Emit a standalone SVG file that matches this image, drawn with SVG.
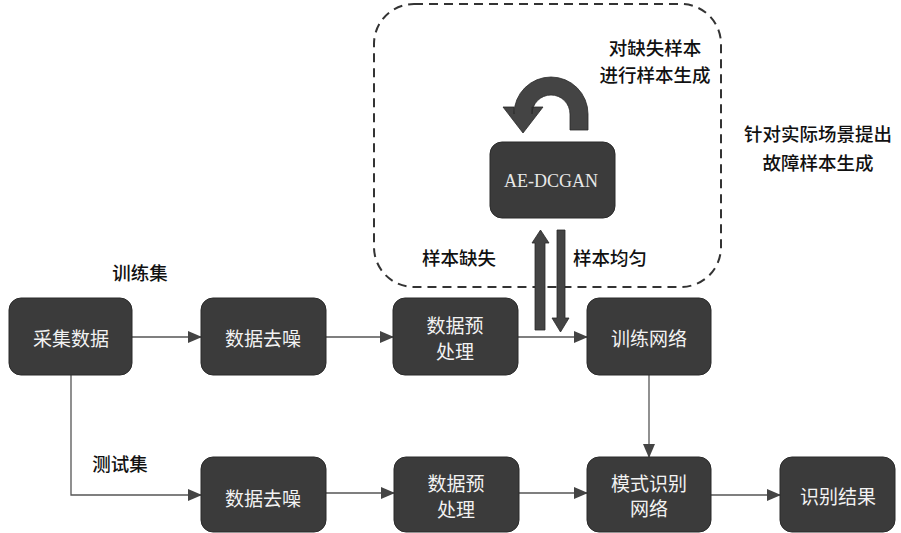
<svg xmlns="http://www.w3.org/2000/svg" width="901" height="533" viewBox="0 0 901 533">
<style>
.node rect{fill:#3b3b3b;stroke:#2a2a2a;stroke-width:1}
.nt{font-family:"Noto Sans CJK SC","Noto Sans",sans-serif;font-size:19px;fill:#f2f2f2;text-anchor:middle;dominant-baseline:central}
.lbl{font-family:"Noto Sans CJK SC","Noto Sans",sans-serif;font-size:18.5px;font-weight:500;fill:#111;text-anchor:middle;dominant-baseline:central}
.ln{fill:none;stroke:#555;stroke-width:1.3}
.thick{fill:#444;stroke:#2a2a2a;stroke-width:0.8}
</style>
<defs>
<marker id="ah" markerWidth="14" markerHeight="12" refX="13" refY="6" orient="auto" markerUnits="userSpaceOnUse">
<path d="M0,0 L14,6 L0,12 Z" fill="#444"/>
</marker>
</defs>
<rect width="901" height="533" fill="#fff"/>

<g id="region">
<rect x="374" y="4" width="347" height="283" rx="40" fill="none" stroke="#333" stroke-width="2" stroke-dasharray="9 6"/>
</g>

<g id="connectors">
<line class="ln" x1="132" y1="337" x2="201" y2="337" marker-end="url(#ah)"/>
<line class="ln" x1="326" y1="337" x2="393" y2="337" marker-end="url(#ah)"/>
<line class="ln" x1="518" y1="337" x2="587" y2="337" marker-end="url(#ah)"/>
<line class="ln" x1="649" y1="375" x2="649" y2="457" marker-end="url(#ah)"/>
<polyline class="ln" points="71,375 71,495 201,495" marker-end="url(#ah)"/>
<line class="ln" x1="326" y1="493" x2="394" y2="493" marker-end="url(#ah)"/>
<line class="ln" x1="519" y1="493" x2="587" y2="493" marker-end="url(#ah)"/>
<line class="ln" x1="711" y1="495" x2="780" y2="495" marker-end="url(#ah)"/>
<path class="thick" d="M535 330 L535 243 L532 243 L540.5 230 L549 243 L545 243 L545 330 Z"/>
<path class="thick" d="M557 230 L565 230 L565 318 L569 318 L560.5 332 L552 318 L557 318 Z"/>
<path class="thick" d="M570 130 L570 114 A19 19 0 0 0 532 114 L532 107 L543 107 L523 133 L503 107 L514 107 L514 114 A37 37 0 0 1 588 114 L588 130 Z"/>
</g>

<g id="n-collect" class="node"><rect x="9" y="298" width="123" height="77" rx="12"/><text class="nt" x="71" y="337">采集数据</text></g>
<g id="n-denoise1" class="node"><rect x="201" y="298" width="125" height="77" rx="12"/><text class="nt" x="263" y="337">数据去噪</text></g>
<g id="n-pre1" class="node"><rect x="393" y="298" width="125" height="77" rx="12"/><text class="nt" x="455" y="324">数据预</text><text class="nt" x="455" y="350">处理</text></g>
<g id="n-train" class="node"><rect x="587" y="298" width="124" height="77" rx="12"/><text class="nt" x="649" y="337">训练网络</text></g>
<g id="n-gan" class="node"><rect x="490" y="142" width="125" height="76" rx="12"/><text x="551" y="181" font-family="Liberation Serif,serif" font-size="18" fill="#e8e8e8" text-anchor="middle" dominant-baseline="central">AE-DCGAN</text></g>
<g id="n-denoise2" class="node"><rect x="201" y="457" width="125" height="75" rx="12"/><text class="nt" x="263" y="497">数据去噪</text></g>
<g id="n-pre2" class="node"><rect x="394" y="457" width="125" height="75" rx="12"/><text class="nt" x="456" y="482">数据预</text><text class="nt" x="456" y="508">处理</text></g>
<g id="n-recog" class="node"><rect x="587" y="457" width="124" height="75" rx="12"/><text class="nt" x="649" y="482">模式识别</text><text class="nt" x="649" y="507">网络</text></g>
<g id="n-result" class="node"><rect x="780" y="457" width="115" height="75" rx="12"/><text class="nt" x="838" y="495">识别结果</text></g>

<g id="labels">
<text class="lbl" x="140" y="272">训练集</text>
<text class="lbl" x="120" y="463">测试集</text>
<text class="lbl" x="655" y="47" font-size="18">对缺失样本</text>
<text class="lbl" x="655" y="74" font-size="18">进行样本生成</text>
<text class="lbl" x="459" y="257">样本缺失</text>
<text class="lbl" x="610" y="257">样本均匀</text>
<text class="lbl" x="818" y="133">针对实际场景提出</text>
<text class="lbl" x="818" y="162">故障样本生成</text>
</g>
</svg>
